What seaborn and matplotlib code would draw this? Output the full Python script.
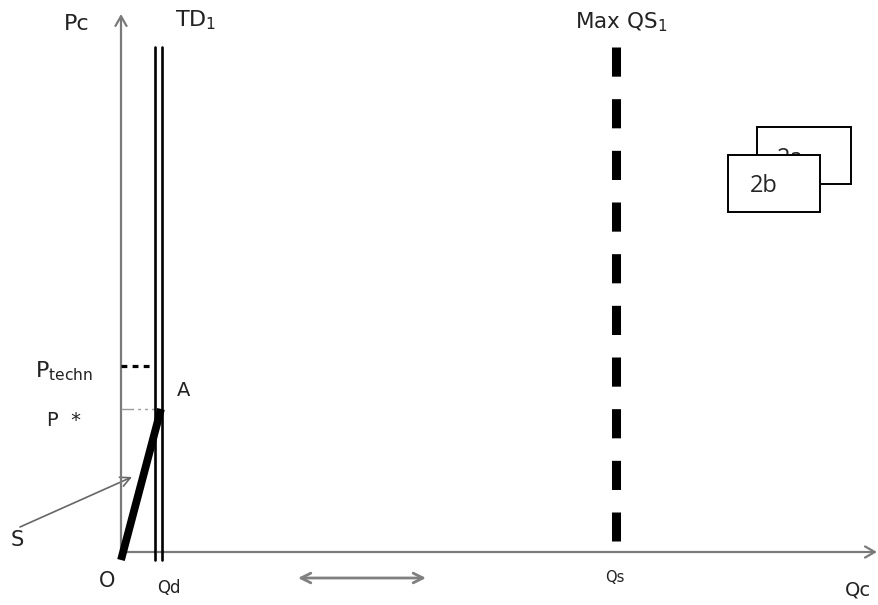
import matplotlib
matplotlib.use("Agg")
import matplotlib.pyplot as plt
import seaborn as sns
import pandas as pd
from matplotlib.patches import Rectangle, FancyArrowPatch

sns.set_style("white")
plt.rcParams['font.family'] = ['DejaVu Sans']
plt.rcParams['mathtext.fontset'] = 'dejavusans'
plt.rcParams['lines.scale_dashes'] = False

# ---- data (diagram units: origin O at the axis crossing) ----
pc_axis_top = 538
qc_axis_end = 756
td1_x = [34, 41]            # the two TD1 vertical lines (Qd)
td1_y = [-8, 505]
maxqs_x = [495, 495]        # Max QS1 (Qs)
maxqs_y = [505, 11]
s_curve_x = [0, 40]         # supply line S from O to A
s_curve_y = [-8, 143]
p_star = 143
p_techn = 186
p_techn_x = [0, 33]
p_star_x = [0, 40]
range_arrow_x = [177, 305]
range_arrow_y = -26

AXIS_GRAY = "#7a7a7a"

fig = plt.figure(figsize=(8.79, 6.05), dpi=100)
ax = fig.add_axes([0, 0, 1, 1])
ax.set_xlim(-121, 758)
ax.set_ylim(-53, 552)
ax.axis("off")


def vline(xs, ys, **kw):
    df = pd.DataFrame({"x": xs, "y": ys})
    sns.lineplot(data=df, x="x", y="y", estimator=None, sort=False, ax=ax,
                 legend=False, **kw)


# axes with open arrow heads
ax.add_patch(FancyArrowPatch((0, -2), (0, pc_axis_top), arrowstyle="->,head_length=7,head_width=4",
                             color=AXIS_GRAY, lw=1.6, mutation_scale=1, shrinkA=0, shrinkB=0, zorder=2))
ax.add_patch(FancyArrowPatch((0, 0), (qc_axis_end, 0), arrowstyle="->,head_length=7,head_width=4",
                             color=AXIS_GRAY, lw=1.6, mutation_scale=1, shrinkA=0, shrinkB=0, zorder=2))

# TD1 double line
for x in td1_x:
    vline([x, x], td1_y, color="black", linewidth=1.9, zorder=4)

# Max QS1 thick dashed line
vline(maxqs_x, maxqs_y, color="black", linewidth=6.5, linestyle=(0, (21, 16.2)),
      dash_capstyle="butt", zorder=4)

# supply line S
vline(s_curve_x, s_curve_y, color="black", linewidth=5.6, solid_capstyle="butt", zorder=5)

# P techn dashed level
vline(p_techn_x, [p_techn, p_techn], color="black", linewidth=2.3,
      linestyle=(0, (4.2, 3.8)), dash_capstyle="butt", zorder=3)
# P* dotted level
vline(p_star_x, [p_star, p_star], color="#9a9a9a", linewidth=1.0,
      linestyle=(0, (9, 3, 2, 3, 2, 3, 2, 3)), zorder=3)

# arrow pointing at S
ax.add_patch(FancyArrowPatch((-101, 25), (11, 75), arrowstyle="->,head_length=7,head_width=3.5",
                             color="#666666", lw=1.2, mutation_scale=1, shrinkA=0, shrinkB=0))
# double-headed arrow under the Qc axis
ax.add_patch(FancyArrowPatch((range_arrow_x[0], range_arrow_y), (range_arrow_x[1], range_arrow_y),
                             arrowstyle="<->,head_length=7,head_width=3.5",
                             color="#808080", lw=2.0, mutation_scale=1, shrinkA=0, shrinkB=0))

# labels
txt = dict(color="#222222")
ax.text(-44, 528, "Pc", fontsize=16, ha="center", va="center", **txt)
ax.text(75, 532, r"TD$_1$", fontsize=16, ha="center", va="center", **txt)
ax.text(500, 530, r"Max QS$_1$", fontsize=15.5, ha="center", va="center", **txt)
ax.text(-86, 181, r"P$_{\mathrm{techn}}$", fontsize=16, ha="left", va="center", **txt)
ax.text(63, 162, "A", fontsize=14, ha="center", va="center", **txt)
ax.text(-74, 132, "P  *", fontsize=14, ha="left", va="center", **txt)
ax.text(-104, 12, "S", fontsize=15, ha="center", va="center", **txt)
ax.text(-14, -29, "O", fontsize=15, ha="center", va="center", **txt)
ax.text(48, -36, "Qd", fontsize=12, ha="center", va="center", **txt)
ax.text(494, -26, "Qs", fontsize=10.5, ha="center", va="center", **txt)
ax.text(737, -38, "Qc", fontsize=14, ha="center", va="center", **txt)

# overlapping boxes 2a / 2b
ax.add_patch(Rectangle((636, 368), 94, 57, facecolor="white", edgecolor="black", lw=1.4, zorder=6))
ax.text(669, 393, "2a", fontsize=17, ha="center", va="center", family="Open Sans", zorder=6.5)
ax.add_patch(Rectangle((607, 340), 92, 57, facecolor="white", edgecolor="black", lw=1.4, zorder=7))
ax.text(643, 366, "2b", fontsize=17, ha="center", va="center", family="Open Sans", zorder=8)

fig.savefig("out.png", dpi=100)
